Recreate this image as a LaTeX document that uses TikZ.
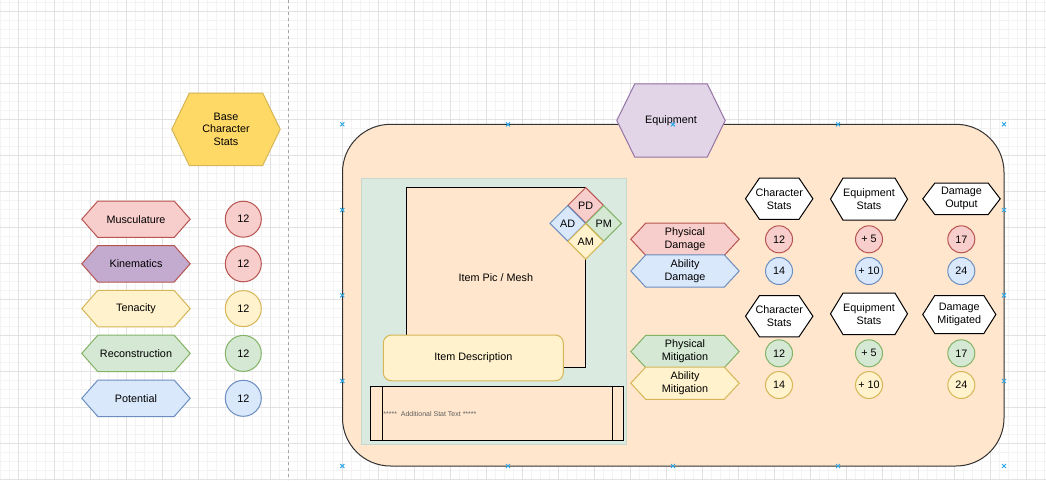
\documentclass[tikz,border=0pt]{standalone}
\usepackage{fontspec}
\setmainfont{Liberation Sans}
\usetikzlibrary{shapes.geometric}
\definecolor{redf}{HTML}{F8CECC}\definecolor{reds}{HTML}{B85450}
\definecolor{bluef}{HTML}{DAE8FC}\definecolor{blues}{HTML}{6C8EBF}
\definecolor{greenf}{HTML}{D5E8D4}\definecolor{greens}{HTML}{82B366}
\definecolor{yelf}{HTML}{FFF2CC}\definecolor{yels}{HTML}{D6B656}
\definecolor{purf}{HTML}{E1D5E7}\definecolor{purs}{HTML}{9673A6}
\definecolor{goldf}{HTML}{FFD966}
\definecolor{kinf}{HTML}{C3ABD0}
\definecolor{peach}{HTML}{FFE6CC}
\definecolor{dark}{HTML}{333333}
\definecolor{panelf}{HTML}{DBEAE0}\definecolor{panels}{HTML}{C8D8CC}
\definecolor{gmajor}{HTML}{E2E2E2}\definecolor{gminor}{HTML}{F3F3F3}
\definecolor{selblue}{HTML}{2EA8E8}
\definecolor{txtgray}{HTML}{5F5F5F}
\pgfdeclarelayer{back}\pgfdeclarelayer{mid}
\pgfsetlayers{back,mid,main}
\newcommand\hexfill[3]{\begin{pgfonlayer}{mid}\path[#3,line width=1pt] ([xshift=#2]#1.north west) -- ([xshift=-#2]#1.north east) -- (#1.east) -- ([xshift=-#2]#1.south east) -- ([xshift=#2]#1.south west) -- (#1.west) -- cycle;\end{pgfonlayer}}
\newcommand\lbl{\fontsize{10.8}{12.9}\selectfont}
\tikzset{
  hexn/.style={inner sep=0pt, align=center, font=\lbl, text=black},
  bigc/.style={circle, inner sep=0pt, minimum size=36pt, line width=1pt, font=\lbl},
  smc/.style={circle, inner sep=0pt, minimum size=27pt, line width=1pt, font=\lbl},
  dia/.style={diamond, shape aspect=1, inner sep=0pt, minimum width=36pt, minimum height=36pt, line width=1pt, font=\lbl},
  boxn/.style={rectangle, inner sep=0pt, line width=1pt, font=\lbl, align=center},
  selmark/.style={selblue, line width=1pt},
}
\begin{document}
\begin{tikzpicture}[x=1pt,y=-1pt]
\useasboundingbox (0,0) rectangle (1046,480);
\begin{pgfonlayer}{back}
\fill[white] (0,0) rectangle (1046,480);
\foreach \i in {0,...,116} {\draw[gminor,line width=0.8pt] ({0.3+9*\i},0) -- ({0.3+9*\i},480);}
\foreach \i in {0,...,53} {\draw[gminor,line width=0.8pt] (0,{2.7+9*\i}) -- (1046,{2.7+9*\i});}
\foreach \i in {0,...,28} {\draw[gmajor,line width=1pt] ({18.3+36*\i},0) -- ({18.3+36*\i},480);}
\foreach \i in {0,...,13} {\draw[gmajor,line width=1pt] (0,{11.7+36*\i}) -- (1046,{11.7+36*\i});}
\draw[gray!70,line width=1pt,dash pattern=on 3pt off 3pt] (288.7,0) -- (288.7,480);
\draw[dark,fill=peach,line width=1pt,rounded corners=48pt] (342.5,124.3) rectangle (1004,466);
\end{pgfonlayer}

% left column
\node[hexn, minimum width=108pt, minimum height=72pt] (base) at (226,129.3) {Base\\Character\\Stats};
\hexfill{base}{17.5pt}{fill=goldf,draw=yels}
\node[hexn, minimum width=108pt, minimum height=36pt] (musc) at (136,219.2) {Musculature};
\hexfill{musc}{16pt}{fill=redf,draw=reds}
\node[hexn, minimum width=108pt, minimum height=36pt] (kin) at (136,263.8) {Kinematics};
\hexfill{kin}{16pt}{fill=kinf,draw=reds}
\node[hexn, minimum width=108pt, minimum height=36pt] (ten) at (136,308.6) {Tenacity};
\hexfill{ten}{16pt}{fill=yelf,draw=yels}
\node[hexn, minimum width=108pt, minimum height=36pt] (rec) at (136,353.4) {Reconstruction};
\hexfill{rec}{16pt}{fill=greenf,draw=greens}
\node[hexn, minimum width=108pt, minimum height=36pt] (pot) at (136,398.3) {Potential};
\hexfill{pot}{16pt}{fill=bluef,draw=blues}
\node[bigc, fill=redf, draw=reds] (cmus) at (243.3,219.2) {12};
\node[bigc, fill=redf, draw=reds] (ckin) at (243.3,263.8) {12};
\node[bigc, fill=yelf, draw=yels] (cten) at (243.3,308.6) {12};
\node[bigc, fill=greenf, draw=greens] (crec) at (243.3,353.4) {12};
\node[bigc, fill=bluef, draw=blues] (cpot) at (243.3,398.3) {12};

% equipment
\node[hexn, minimum width=108pt, minimum height=73pt] (equip) at (671,120.5) {Equipment};
\hexfill{equip}{18pt}{fill=purf,draw=purs}

\node[boxn, fill=panelf, draw=panels, minimum width=265.7pt, minimum height=265.7pt] (panel) at (493.85,311.15) {};
\node[boxn, fill=peach, draw=black, minimum width=179.7pt, minimum height=180pt] (pic) at (495.85,277.3) {Item Pic / Mesh};
\node[dia, fill=redf, draw=reds] (dpd) at (585.7,205.3) {PD};
\node[dia, fill=bluef, draw=blues] (dad) at (567.7,223.3) {AD};
\node[dia, fill=greenf, draw=greens] (dpm) at (603.7,223.3) {PM};
\node[dia, fill=yelf, draw=yels] (dam) at (585.7,241.3) {AM};
\node[boxn, fill=yelf, draw=yels, rounded corners=8pt, minimum width=180pt, minimum height=45.7pt] (desc) at (473.3,357.9) {Item Description};
\node[boxn, fill=peach, draw=black, minimum width=252.6pt, minimum height=53.7pt] (addl) at (497,413.2) {};
\draw[black,line width=1pt] ([xshift=12pt]addl.north west) -- ([xshift=12pt]addl.south west);
\draw[black,line width=1pt] ([xshift=-11.6pt]addl.north east) -- ([xshift=-11.6pt]addl.south east);
\node[anchor=west, inner sep=0pt, font=\fontsize{7}{8}\selectfont, text=txtgray] (addtxt) at ([xshift=13pt,yshift=-0.8pt]addl.west) {*****\ \ Additional Stat Text *****};

% stat hexagons
\node[hexn, minimum width=108pt, minimum height=32pt] (hpd) at (685,239.2) {Physical\\Damage};
\hexfill{hpd}{15pt}{fill=redf,draw=reds}
\node[hexn, minimum width=108pt, minimum height=32pt] (had) at (685,271) {Ability\\Damage};
\hexfill{had}{15pt}{fill=bluef,draw=blues}
\node[hexn, minimum width=108pt, minimum height=32pt] (hpm) at (685,351.5) {Physical\\Mitigation};
\hexfill{hpm}{15pt}{fill=greenf,draw=greens}
\node[hexn, minimum width=108pt, minimum height=32pt] (ham) at (685,383.2) {Ability\\Mitigation};
\hexfill{ham}{15pt}{fill=yelf,draw=yels}

% header hexagons
\node[hexn, minimum width=67pt, minimum height=41pt] (cs1) at (779.2,198.7) {Character\\Stats};
\hexfill{cs1}{14pt}{fill=white,draw=black}
\node[hexn, minimum width=76.6pt, minimum height=41.7pt] (es1) at (869,199.1) {Equipment\\Stats};
\hexfill{es1}{12.5pt}{fill=white,draw=black}
\node[hexn, minimum width=77pt, minimum height=31pt] (do1) at (961.5,198.8) {Damage\\Output};
\hexfill{do1}{12pt}{fill=white,draw=black}
\node[hexn, minimum width=67pt, minimum height=41pt] (cs2) at (779.2,316.2) {Character\\Stats};
\hexfill{cs2}{14pt}{fill=white,draw=black}
\node[hexn, minimum width=76.6pt, minimum height=41pt] (es2) at (869,313.8) {Equipment\\Stats};
\hexfill{es2}{12.5pt}{fill=white,draw=black}
\node[hexn, minimum width=72.7pt, minimum height=37.6pt] (dm2) at (959.3,314.5) {Damage\\Mitigated};
\hexfill{dm2}{12pt}{fill=white,draw=black}

% value circles
\node[smc, fill=redf, draw=reds] (v11) at (779,239.3) {12};
\node[smc, fill=redf, draw=reds] (v12) at (869,239.3) {+ 5};
\node[smc, fill=redf, draw=reds] (v13) at (961.3,239.3) {17};
\node[smc, fill=bluef, draw=blues] (v21) at (779,271) {14};
\node[smc, fill=bluef, draw=blues] (v22) at (869,271) {+ 10};
\node[smc, fill=bluef, draw=blues] (v23) at (961.3,271) {24};
\node[smc, fill=greenf, draw=greens] (v31) at (779,353.3) {12};
\node[smc, fill=greenf, draw=greens] (v32) at (869,353.3) {+ 5};
\node[smc, fill=greenf, draw=greens] (v33) at (961.3,353.3) {17};
\node[smc, fill=yelf, draw=yels] (v41) at (779,385) {14};
\node[smc, fill=yelf, draw=yels] (v42) at (869,385) {+ 10};
\node[smc, fill=yelf, draw=yels] (v43) at (961.3,385) {24};

% selection markers
\foreach \p in {(342.3,124.3),(508,124.3),(673,124.3),(838,124.3),(1004,124.3),
                (342.3,210),(1004,210),(342.3,295.3),(1004,295.3),(342.3,381),(1004,381),
                (342.3,466),(508,466),(673,466),(838,466),(1004,466)}
  {\draw[selmark] \p ++(-2,-2) -- ++(4,4) \p ++(-2,2) -- ++(4,-4);}
\end{tikzpicture}
\end{document}
